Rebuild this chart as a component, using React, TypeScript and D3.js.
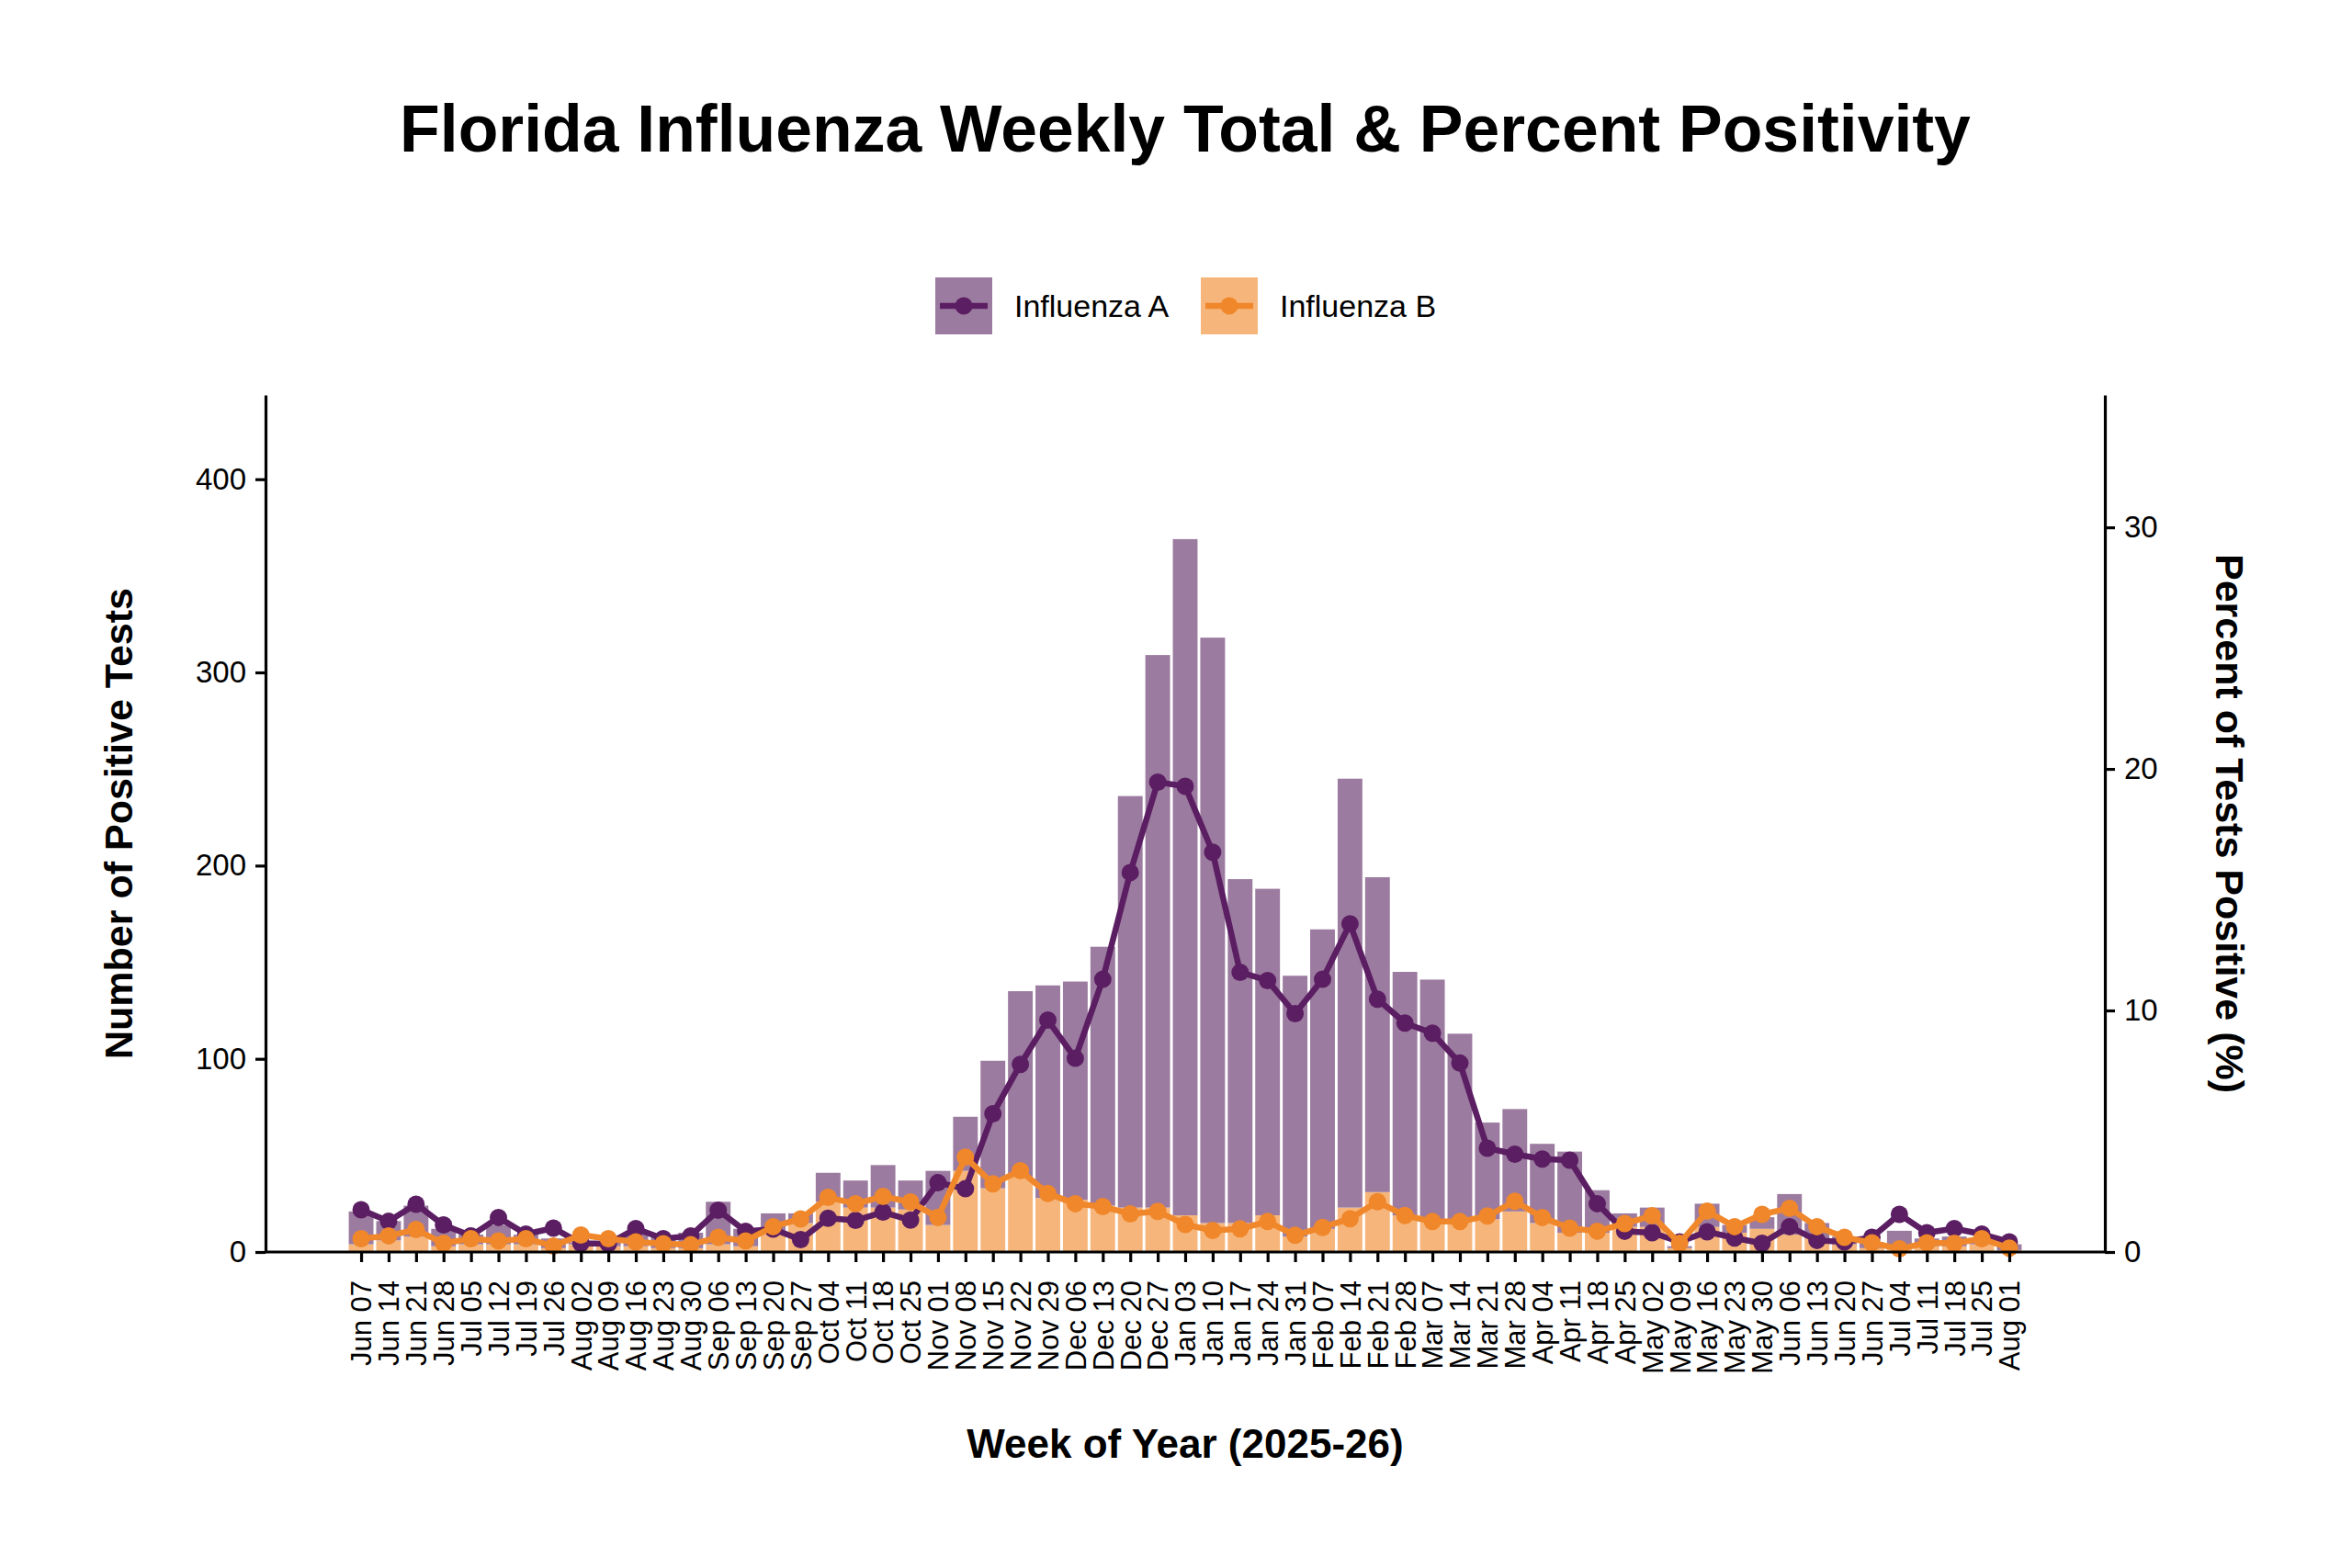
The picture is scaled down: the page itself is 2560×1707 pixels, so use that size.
import React, { useEffect, useRef } from 'react';
import * as d3 from 'd3';

// week labels (2025-26 season)
const weeks = [
  'Jun 07', 'Jun 14', 'Jun 21', 'Jun 28', 'Jul 05', 'Jul 12', 'Jul 19', 'Jul 26',
  'Aug 02', 'Aug 09', 'Aug 16', 'Aug 23', 'Aug 30', 'Sep 06', 'Sep 13', 'Sep 20',
  'Sep 27', 'Oct 04', 'Oct 11', 'Oct 18', 'Oct 25', 'Nov 01', 'Nov 08', 'Nov 15',
  'Nov 22', 'Nov 29', 'Dec 06', 'Dec 13', 'Dec 20', 'Dec 27', 'Jan 03', 'Jan 10',
  'Jan 17', 'Jan 24', 'Jan 31', 'Feb 07', 'Feb 14', 'Feb 21', 'Feb 28', 'Mar 07',
  'Mar 14', 'Mar 21', 'Mar 28', 'Apr 04', 'Apr 11', 'Apr 18', 'Apr 25', 'May 02',
  'May 09', 'May 16', 'May 23', 'May 30', 'Jun 06', 'Jun 13', 'Jun 20', 'Jun 27',
  'Jul 04', 'Jul 11', 'Jul 18', 'Jul 25', 'Aug 01',
];

// positive test counts
const fluACount = [
  17, 10, 16, 9, 5, 10, 5, 5, 1, 2, 7, 6, 8, 22, 9, 9,
  5, 15, 14, 22, 15, 28, 28, 66, 96, 110, 113, 134, 213, 286, 350, 303,
  178, 169, 135, 155, 222, 163, 126, 125, 97, 50, 53, 41, 42, 22, 7, 10,
  1, 12, 4, 6, 21, 8, 4, 3, 9, 4, 5, 3, 3,
];
const fluBCount = [
  4, 6, 8, 3, 4, 4, 4, 2, 4, 3, 3, 2, 2, 4, 3, 11,
  15, 26, 23, 23, 22, 14, 42, 33, 39, 28, 27, 24, 23, 23, 19, 15,
  15, 19, 8, 12, 23, 31, 19, 16, 16, 17, 21, 15, 10, 10, 13, 13,
  2, 13, 10, 12, 9, 7, 4, 2, 2, 3, 3, 4, 1,
];

// percent positive
const fluAPct = [
  1.75, 1.27, 1.98, 1.12, 0.67, 1.43, 0.74, 0.99, 0.36, 0.34, 0.97, 0.55, 0.67, 1.73, 0.86, 0.95,
  0.51, 1.4, 1.31, 1.65, 1.32, 2.87, 2.62, 5.72, 7.77, 9.6, 8.02, 11.29, 15.71, 19.45, 19.28, 16.55,
  11.58, 11.24, 9.87, 11.29, 13.59, 10.47, 9.48, 9.06, 7.82, 4.3, 4.05, 3.85, 3.8, 2.0, 0.86, 0.8,
  0.42, 0.84, 0.58, 0.36, 1.05, 0.48, 0.42, 0.61, 1.56, 0.8, 0.97, 0.74, 0.42,
];
const fluBPct = [
  0.55, 0.67, 0.93, 0.36, 0.55, 0.46, 0.55, 0.25, 0.7, 0.55, 0.42, 0.34, 0.3, 0.61, 0.46, 1.05,
  1.37, 2.26, 2.0, 2.3, 2.07, 1.43, 3.93, 2.82, 3.37, 2.42, 2.0, 1.88, 1.58, 1.68, 1.14, 0.89,
  0.96, 1.26, 0.69, 1.02, 1.38, 2.08, 1.51, 1.26, 1.26, 1.49, 2.1, 1.43, 0.99, 0.86, 1.18, 1.5,
  0.36, 1.69, 1.05, 1.56, 1.81, 1.05, 0.61, 0.38, 0.13, 0.38, 0.36, 0.55, 0.16,
];

const leftTicks = [0, 100, 200, 300, 400];
const rightTicks = [0, 10, 20, 30];

const W = 2560;
const H = 1707;
const FONT = '"Liberation Sans", Arial, Helvetica, sans-serif';

const colors = {
  barA: '#9c7ba0',
  barB: '#f6b67b',
  lineA: '#5b1e62',
  lineB: '#f0872b',
};

export default function App() {
  const svgRef = useRef<SVGSVGElement>(null);

  useEffect(() => {
    if (!svgRef.current) return;
    const svg = d3.select(svgRef.current);
    svg.selectAll('*').remove();

    const panel = { left: 289, right: 2291, top: 430, bottom: 1363 };

    const x = d3.scalePoint<string>()
      .domain(weeks)
      .range([panel.left, panel.right])
      .padding(3.48);
    const barW = x.step() * 0.9;

    const yCount = d3.scaleLinear().domain([0, 443.6]).range([panel.bottom, panel.top]);
    const yPct = d3.scaleLinear().domain([0, 35.48]).range([panel.bottom, panel.top]);

    // stacked bars: B at bottom, A on top
    const rows = weeks.map((w, i) => ({ week: w, B: fluBCount[i], A: fluACount[i] }));
    const stacked = d3.stack<any>().keys(['B', 'A'])(rows);

    const g = svg.append('g');
    g.selectAll('.layer')
      .data(stacked)
      .enter().append('g')
      .attr('fill', d => (d.key === 'A' ? colors.barA : colors.barB))
      .selectAll('rect')
      .data(d => d)
      .enter().append('rect')
      .attr('x', d => (x(d.data.week) || 0) - barW / 2)
      .attr('y', d => yCount(d[1]))
      .attr('width', barW)
      .attr('height', d => yCount(d[0]) - yCount(d[1]));

    // percent lines, A first so B sits on top
    const series = [
      { vals: fluAPct, color: colors.lineA },
      { vals: fluBPct, color: colors.lineB },
    ];
    series.forEach(s => {
      const line = d3.line<number>()
        .x((_, i) => x(weeks[i]) || 0)
        .y(v => yPct(v));
      g.append('path')
        .datum(s.vals)
        .attr('d', line)
        .attr('fill', 'none')
        .attr('stroke', s.color)
        .attr('stroke-width', 6.5)
        .attr('stroke-linejoin', 'round');
      g.selectAll(null)
        .data(s.vals)
        .enter().append('circle')
        .attr('cx', (_, i) => x(weeks[i]) || 0)
        .attr('cy', v => yPct(v))
        .attr('r', 9.5)
        .attr('fill', s.color);
    });

    // axes
    const axisStroke = 3.2;
    const left = svg.append('g')
      .attr('transform', `translate(${panel.left},0)`)
      .call(d3.axisLeft(yCount).tickValues(leftTicks).tickSize(11).tickPadding(10).tickSizeOuter(0));
    const right = svg.append('g')
      .attr('transform', `translate(${panel.right},0)`)
      .call(d3.axisRight(yPct).tickValues(rightTicks).tickSize(11).tickPadding(10).tickSizeOuter(0));
    const bottom = svg.append('g')
      .attr('transform', `translate(0,${panel.bottom})`)
      .call(d3.axisBottom(x).tickSize(11).tickSizeOuter(0));

    [left, right, bottom].forEach(ax => {
      ax.select('.domain').attr('stroke', '#000').attr('stroke-width', axisStroke);
      ax.selectAll('.tick line').attr('stroke', '#000').attr('stroke-width', axisStroke);
      ax.selectAll('.tick text')
        .attr('fill', '#000')
        .style('font-family', FONT)
        .style('font-size', '33px');
    });
    // x-axis domain should span panel width
    bottom.select('.domain').attr('d', `M${panel.left},0H${panel.right}`);

    bottom.selectAll('.tick text')
      .attr('transform', 'rotate(-90)')
      .attr('text-anchor', 'end')
      .attr('x', -31)
      .attr('y', 0)
      .attr('dy', '0.35em')
      .style('font-size', '31px');

    // titles
    const cx = 1290;
    svg.append('text')
      .attr('x', cx)
      .attr('y', 165)
      .attr('text-anchor', 'middle')
      .style('font-family', FONT)
      .style('font-weight', 'bold')
      .style('font-size', '71.5px')
      .text('Florida Influenza Weekly Total & Percent Positivity');

    svg.append('text')
      .attr('x', cx)
      .attr('y', 1587)
      .attr('text-anchor', 'middle')
      .style('font-family', FONT)
      .style('font-weight', 'bold')
      .style('font-size', '44px')
      .text('Week of Year (2025-26)');

    const midY = (panel.top + panel.bottom) / 2;
    svg.append('text')
      .attr('transform', `translate(144,${midY}) rotate(-90)`)
      .attr('text-anchor', 'middle')
      .style('font-family', FONT)
      .style('font-weight', 'bold')
      .style('font-size', '43px')
      .text('Number of Positive Tests');

    svg.append('text')
      .attr('transform', `translate(2412,${midY}) rotate(90)`)
      .attr('text-anchor', 'middle')
      .style('font-family', FONT)
      .style('font-weight', 'bold')
      .style('font-size', '43px')
      .text('Percent of Tests Positive (%)');

    // legend
    const legend = [
      { label: 'Influenza A', bar: colors.barA, line: colors.lineA, x: 1018 },
      { label: 'Influenza B', bar: colors.barB, line: colors.lineB, x: 1307 },
    ];
    const key = 62;
    const ly = 302;
    legend.forEach(l => {
      const lg = svg.append('g').attr('transform', `translate(${l.x},${ly})`);
      lg.append('rect').attr('width', key).attr('height', key).attr('fill', l.bar);
      lg.append('line')
        .attr('x1', 5).attr('x2', key - 5)
        .attr('y1', key / 2).attr('y2', key / 2)
        .attr('stroke', l.line).attr('stroke-width', 6.5);
      lg.append('circle').attr('cx', key / 2).attr('cy', key / 2).attr('r', 9.5).attr('fill', l.line);
      lg.append('text')
        .attr('x', key + 24)
        .attr('y', key / 2)
        .attr('dy', '0.35em')
        .style('font-family', FONT)
        .style('font-size', '34px')
        .text(l.label);
    });
  }, []);

  return (
    <div style={{ position: 'absolute', left: 0, top: 0, background: '#fff' }}>
      <svg ref={svgRef} width={W} height={H} style={{ display: 'block', background: '#fff' }} />
    </div>
  );
}
